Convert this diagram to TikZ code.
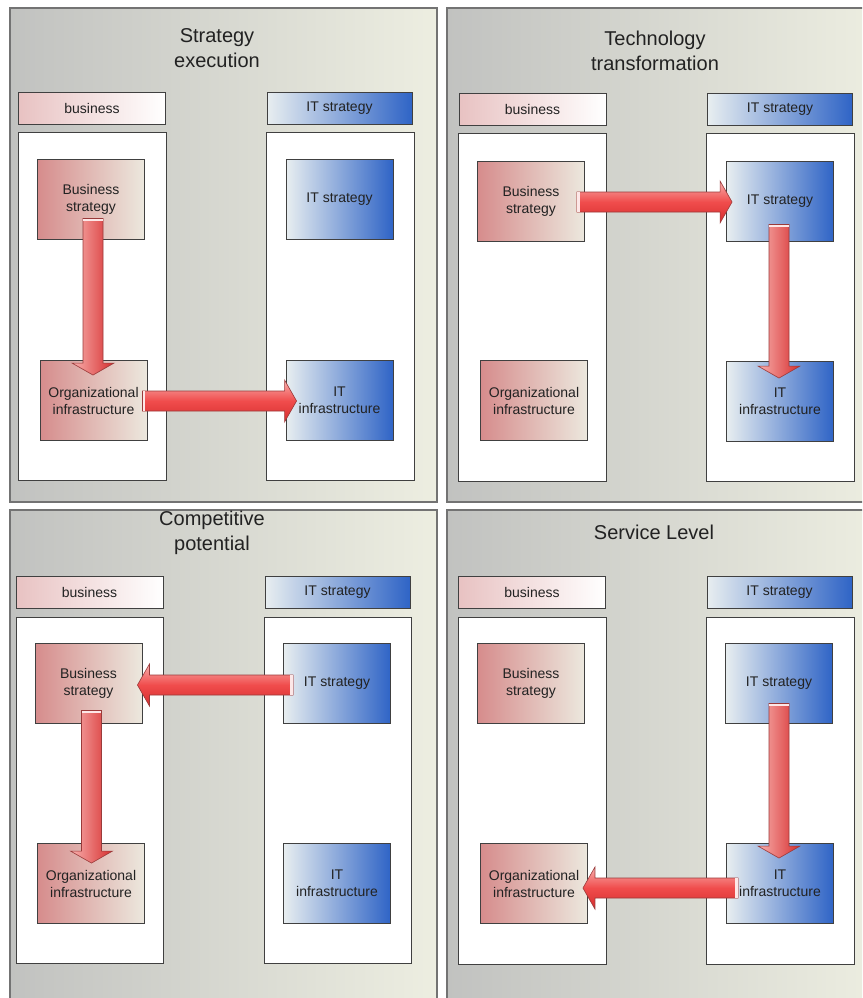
\documentclass[tikz,border=0pt]{standalone}
\usepackage{fontspec}
\setmainfont{Liberation Sans}
\usetikzlibrary{calc}

\definecolor{panelL}{HTML}{C1C2C0}
\definecolor{panelR}{HTML}{EDEEE1}
\definecolor{bizL}{HTML}{D68C8C}
\definecolor{bizR}{HTML}{ECE8DE}
\definecolor{bizHL}{HTML}{E8C2C2}
\definecolor{itL}{HTML}{E8EEF0}
\definecolor{itR}{HTML}{2F64C6}
\definecolor{arrLight}{HTML}{F8B0AE}
\definecolor{arrMid}{HTML}{F04C4C}
\definecolor{arrDark}{HTML}{D62E2E}
\definecolor{arrEdge}{HTML}{9A3A3A}
\definecolor{txt}{HTML}{222222}

\tikzset{
  panel/.style={draw=black!55, line width=1.4pt, left color=panelL, right color=panelR},
  column/.style={draw=black!75, line width=0.9pt, fill=white},
  title/.style={font=\fontsize{20}{25}\selectfont, text=txt, align=center},
  bizhead/.style={draw=black!75, line width=0.9pt, left color=bizHL, right color=white,
    minimum width=147pt, minimum height=32pt, inner sep=0pt,
    font=\fontsize{14}{17}\selectfont, text=txt},
  ithead/.style={draw=black!75, line width=0.9pt, left color=itL, right color=itR,
    minimum width=145pt, minimum height=32pt, inner sep=0pt,
    font=\fontsize{14}{17}\selectfont, text=txt},
  bizbox/.style={draw=black!75, line width=0.9pt, left color=bizL, right color=bizR,
    minimum width=107pt, minimum height=80pt, inner sep=0pt, align=center,
    font=\fontsize{14}{17}\selectfont, text=txt},
  itbox/.style={draw=black!75, line width=0.9pt, left color=itL, right color=itR,
    minimum width=107pt, minimum height=80pt, inner sep=0pt, align=center,
    font=\fontsize{14}{17}\selectfont, text=txt},
  fatV/.style={draw=arrEdge, line width=0.6pt, left color=arrLight, right color=arrDark},
  fatH/.style={draw=arrEdge, line width=0.6pt, top color=arrLight, bottom color=arrDark, middle color=arrMid},
  tailcap/.style={fill=white!70!arrLight},
}

% block arrows: #1 tail point, #2 tip point
\newcommand{\fatdown}[2]{%
  \path[fatV] let \p1=(#1), \p2=(#2) in
    (\x1-10pt,\y1) -- (\x1+10pt,\y1) -- (\x1+10pt,\y2+12pt) -- (\x1+21pt,\y2+12pt)
    -- (\x1,\y2) -- (\x1-21pt,\y2+12pt) -- (\x1-10pt,\y2+12pt) -- cycle;
  \path[tailcap] let \p1=(#1) in (\x1-9.6pt,\y1-0.4pt) rectangle (\x1+9.6pt,\y1-3pt);}
\newcommand{\fatright}[2]{%
  \path[fatH] let \p1=(#1), \p2=(#2) in
    (\x1,\y1+10pt) -- (\x2-12pt,\y1+10pt) -- (\x2-12pt,\y1+21pt) -- (\x2,\y1)
    -- (\x2-12pt,\y1-21pt) -- (\x2-12pt,\y1-10pt) -- (\x1,\y1-10pt) -- cycle;
  \path[tailcap] let \p1=(#1) in (\x1+0.4pt,\y1+9.6pt) rectangle (\x1+3pt,\y1-9.6pt);}
\newcommand{\fatleft}[2]{%
  \path[fatH] let \p1=(#1), \p2=(#2) in
    (\x1,\y1+10pt) -- (\x2+12pt,\y1+10pt) -- (\x2+12pt,\y1+21pt) -- (\x2,\y1)
    -- (\x2+12pt,\y1-21pt) -- (\x2+12pt,\y1-10pt) -- (\x1,\y1-10pt) -- cycle;
  \path[tailcap] let \p1=(#1) in (\x1-0.4pt,\y1+9.6pt) rectangle (\x1-3pt,\y1-9.6pt);}

\begin{document}
\begin{tikzpicture}[x=1pt, y=-1pt]
\useasboundingbox (0,0) rectangle (862,998);
\clip (0,0) rectangle (862,998);
\fill[white] (0,0) rectangle (862,998);

% ---------- Strategy execution ----------
\draw[panel] (10,8) rectangle (437,502);
\node[title] (t1) at (217,48.5) {Strategy\\execution};
\node[bizhead] (h1b) at (92,108) {business};
\node[ithead] (h1i) at (339.5,108) {IT strategy};
\draw[column] (18,132) rectangle (166,480);
\draw[column] (266,132) rectangle (414,480);
\node[bizbox] (p1bs) at (91,199) {Business\\strategy};
\node[itbox] (p1its) at (339.5,199) {IT strategy};
\node[bizbox] (p1oi) at (93.5,400.5) {Organizational\\infrastructure};
\node[itbox] (p1iti) at (339.5,400.5) {IT\\infrastructure};
\fatdown{$(p1bs.south)+(2,-21)$}{$(p1oi.north)+(0,15)$}
\fatright{$(p1oi.east)+(-5,0.5)$}{$(p1iti.west)+(11,0)$}

% ---------- Technology transformation ----------
\draw[panel] (447,8) rectangle (880,502);
\node[title] (t2) at (655,50.5) {Technology\\transformation};
\node[bizhead] (h2b) at (532.5,109.5) {business};
\node[ithead] (h2i) at (780,109.5) {IT strategy};
\draw[column] (458,133) rectangle (606,481);
\draw[column] (706,133) rectangle (854,481);
\node[bizbox] (p2bs) at (531,201) {Business\\strategy};
\node[itbox] (p2its) at (780,201) {IT strategy};
\node[bizbox] (p2oi) at (534,400.5) {Organizational\\infrastructure};
\node[itbox] (p2iti) at (780,401.5) {IT\\infrastructure};
\fatright{$(p2bs.east)+(-8,1)$}{$(p2its.west)+(6,0)$}
\fatdown{$(p2its.south)+(-1,-17)$}{$(p2iti.north)+(0,17)$}

% ---------- Competitive potential ----------
\draw[panel] (10,510) rectangle (437,1010);
\node[title] (t3) at (212,533) {Competitive\\potential};
\node[bizhead] (h3b) at (89.5,592) {business};
\node[ithead] (h3i) at (337.5,592) {IT strategy};
\draw[column] (16,617) rectangle (163,963);
\draw[column] (264,617) rectangle (411,963);
\node[bizbox] (p3bs) at (88.5,683) {Business\\strategy};
\node[itbox] (p3its) at (337,683) {IT strategy};
\node[bizbox] (p3oi) at (91,883.5) {Organizational\\infrastructure};
\node[itbox] (p3iti) at (337,883.5) {IT\\infrastructure};
\fatleft{$(p3its.west)+(10,2)$}{$(p3bs.east)+(-5,0)$}
\fatdown{$(p3bs.south)+(3,-13)$}{$(p3oi.north)+(0,20)$}

% ---------- Service Level ----------
\draw[panel] (447,510) rectangle (880,1010);
\node[title] (t4) at (654,532) {Service Level};
\node[bizhead] (h4b) at (532,592.5) {business};
\node[ithead] (h4i) at (779.5,592.5) {IT strategy};
\draw[column] (458,617) rectangle (606,964);
\draw[column] (706,617) rectangle (854,964);
\node[bizbox] (p4bs) at (531,683) {Business\\strategy};
\node[itbox] (p4its) at (779,683) {IT strategy};
\node[bizbox] (p4oi) at (534,883.5) {Organizational\\infrastructure};
\node[itbox] (p4iti) at (780,883.5) {IT\\infrastructure};
\fatdown{$(p4its.south)+(0,-20)$}{$(p4iti.north)+(0,15)$}
\fatleft{$(p4iti.west)+(12,4.5)$}{$(p4oi.east)+(-5,0)$}
\end{tikzpicture}
\end{document}
